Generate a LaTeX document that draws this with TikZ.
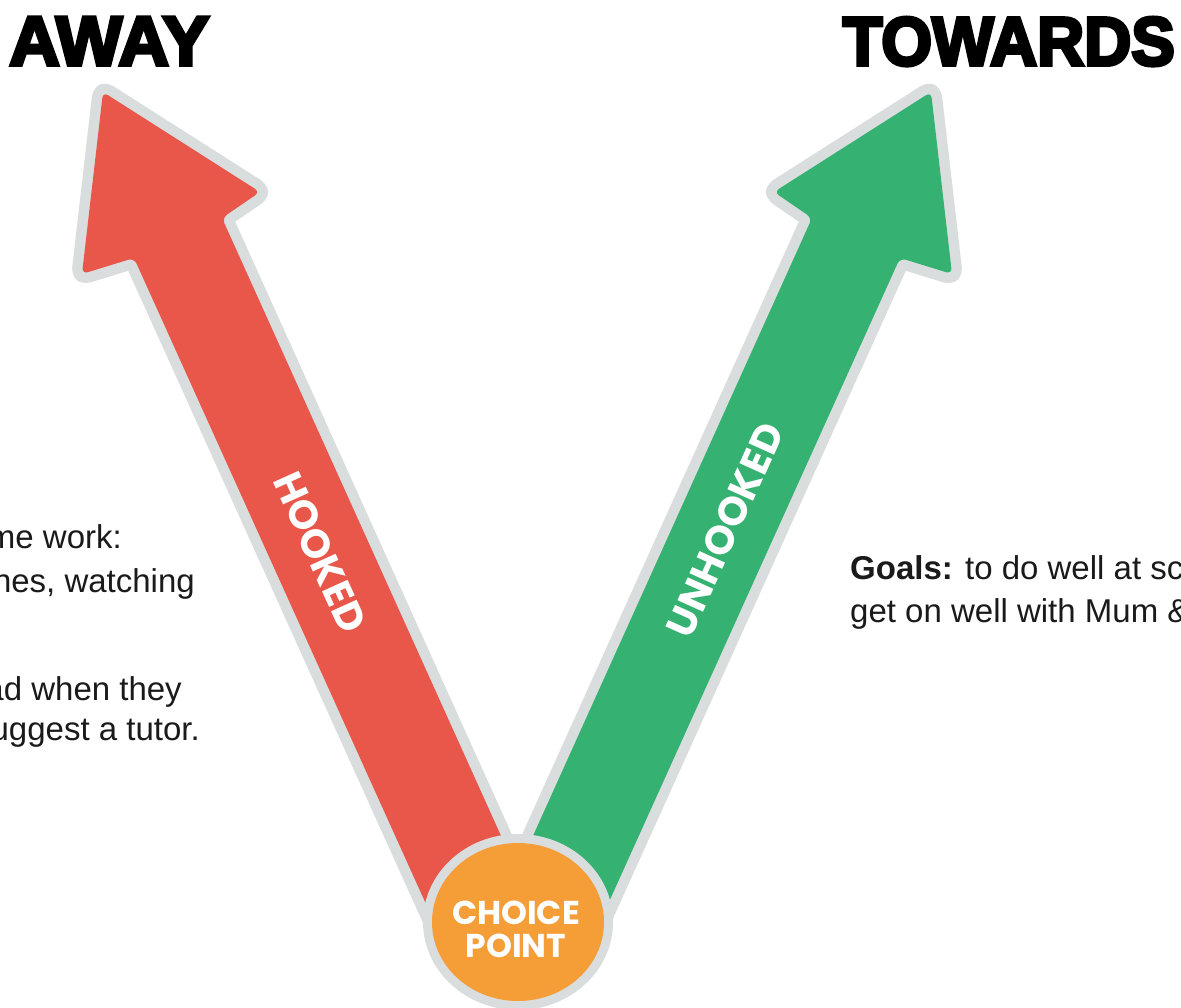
\documentclass[tikz,border=0pt]{standalone}
\usepackage{fontspec}
\usepackage{graphicx}
\setmainfont{Liberation Sans}
\newfontfamily\poppins{Poppins}
\newfontfamily\heavyfont{Liberation Sans Bold}[FakeBold=5]
\definecolor{hookred}{HTML}{E8574A}
\definecolor{unhookgreen}{HTML}{35B171}
\definecolor{choiceorange}{HTML}{F59E38}
\definecolor{rimgray}{HTML}{D9DDDE}
\definecolor{textdark}{HTML}{1A1A1A}
\begin{document}
\begin{tikzpicture}[x=1pt,y=-1pt,
  rim/.style={fill=rimgray,draw=rimgray,line width=21pt,line join=round,rounded corners=5pt},
  body/.style={rounded corners=6pt},
  title/.style={inner sep=0pt,text=black},
  bodytext/.style={inner sep=0pt,text=textdark,font=\fontsize{33}{44}\selectfont},
  armlabel/.style={inner sep=0pt,text=white,font=\poppins\bfseries\fontsize{40}{40}\selectfont},
  cplabel/.style={inner sep=0pt,text=white,font=\poppins\bfseries\fontsize{33}{33}\selectfont}]
\useasboundingbox (0,0) rectangle (1181,1008);
\fill[white] (0,0) rectangle (1181,1008);
\clip (0,0) rectangle (1181,1008);

% red arrow (away)
\coordinate (rT) at (103,92);
\coordinate (rL) at (82,274);
\coordinate (rSL) at (134,258);
\coordinate (rBL) at (440,935);
\coordinate (rBR) at (530,900);
\coordinate (rSR) at (222,218);
\coordinate (rR) at (260,192);
% green arrow (towards)
\coordinate (gT) at (931,92);
\coordinate (gL) at (952,274);
\coordinate (gSL) at (900,258);
\coordinate (gBL) at (594,935);
\coordinate (gBR) at (504,900);
\coordinate (gSR) at (812,218);
\coordinate (gR) at (774,192);

\path[rim] (rT) -- (rR) -- (rSR) -- (rBR) -- (rBL) -- (rSL) -- (rL) -- cycle;
\path[rim] (gT) -- (gR) -- (gSR) -- (gBR) -- (gBL) -- (gSL) -- (gL) -- cycle;
\fill[hookred,body] (rT) -- (rR) -- (rSR) -- (rBR) -- (rBL) -- (rSL) -- (rL) -- cycle;
\fill[unhookgreen,body] (gT) -- (gR) -- (gSR) -- (gBR) -- (gBL) -- (gSL) -- (gL) -- cycle;

% choice point
\filldraw[fill=choiceorange,draw=rimgray,line width=18pt] (518,922) ellipse [x radius=86, y radius=79];
\fill[choiceorange] (518,922) ellipse [x radius=86, y radius=79];
\node[cplabel] (choice) at (516,913) {CHOICE};
\node[cplabel] (point) at (516,946) {POINT};

% arm labels
\node[armlabel,rotate=-65.7] (hooked) at (320,552) {HOOKED};
\node[armlabel,rotate=65.7] (unhooked) at (725,530) {UNHOOKED};

% titles
\node[title,anchor=north west] (away) at (9,17) {\resizebox{200pt}{48pt}{\heavyfont AWAY}};
\node[title,anchor=north east] (towards) at (1175,17) {\resizebox{332pt}{48pt}{\heavyfont TOWARDS}};

% left text (cut by left edge, as in the reference)
\node[bodytext,anchor=base east] (l1) at (122,548) {me work:};
\node[bodytext,anchor=base east] (l2) at (195,592) {nes, watching};
\node[bodytext,anchor=base east] (l3) at (182,700) {ad when they};
\node[bodytext,anchor=base east] (l4) at (200,740) {uggest a tutor.};

% right text (cut by right edge, as in the reference)
\node[bodytext,anchor=base west] (r1) at (850,579) {\textbf{Goals:} to do well at sc};
\node[bodytext,anchor=base west] (r2) at (850,622) {get on well with Mum \&};
\end{tikzpicture}
\end{document}
